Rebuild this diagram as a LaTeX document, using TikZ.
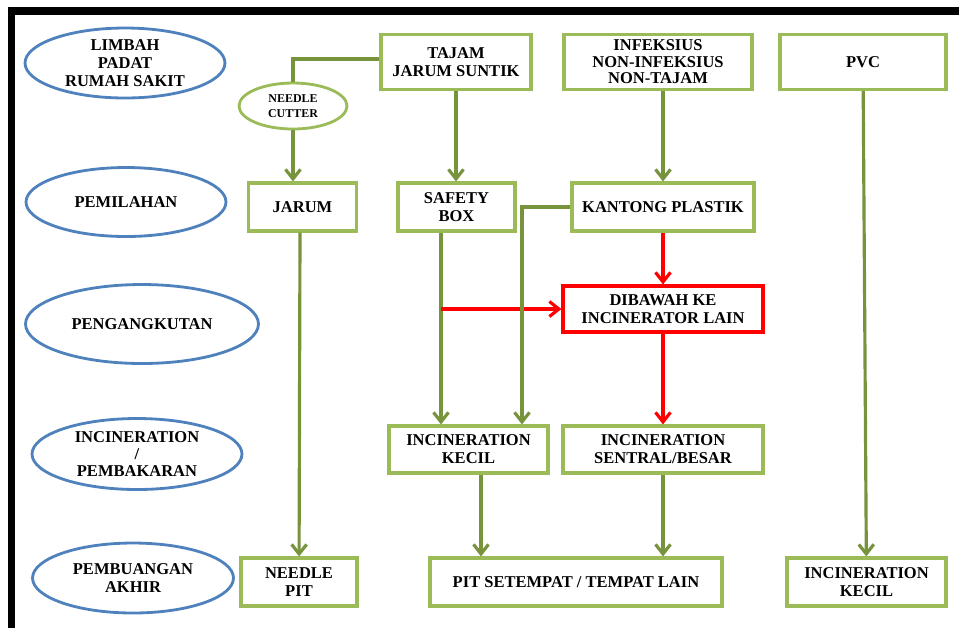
\documentclass[tikz,border=0pt]{standalone}
\usepackage{fontspec}
\setmainfont{Liberation Serif}
\usetikzlibrary{shapes.geometric,arrows.meta}
\definecolor{boxgreen}{RGB}{155,187,89}
\definecolor{arrgreen}{RGB}{119,147,60}
\definecolor{stageblue}{RGB}{79,129,189}
\tikzset{
  stage/.style={ellipse,draw=stageblue,line width=1.6pt,inner sep=0pt,align=center,
    font=\fontsize{9.4}{10.3}\selectfont\bfseries},
  wbox/.style={rectangle,draw=boxgreen,line width=1.8pt,inner sep=0pt,align=center,
    font=\fontsize{9.4}{10.3}\selectfont\bfseries},
  link/.style={draw=arrgreen,line width=1.8pt},
  arr/.style={link,-{Straight Barb[length=0.19cm,width=0.3cm]}},
  redarr/.style={draw=red,line width=1.8pt,-{Straight Barb[length=0.19cm,width=0.3cm]}}
}

\begin{document}
\begin{tikzpicture}[x=0.02cm,y=-0.02cm]
  \useasboundingbox (0,0) rectangle (959,627);
  % frame
  \draw[line width=0.16cm] (11.5,640) -- (11.5,11) -- (970,11);
  % stages
  \node[stage,minimum width=4.0cm,minimum height=1.4cm] (limbah) at (125,63) {LIMBAH\\PADAT\\RUMAH SAKIT};
  \node[stage,minimum width=4.0cm,minimum height=1.38cm] (pemilahan) at (126,202) {PEMILAHAN};
  \node[stage,minimum width=4.66cm,minimum height=1.58cm] (pengangkutan) at (142,324) {PENGANGKUTAN};
  \node[stage,minimum width=4.2cm,minimum height=1.42cm,font=\fontsize{9.4}{9.6}\selectfont\bfseries] (pembakaran) at (137,454) {INCINERATION\\/\\PEMBAKARAN};
  \node[stage,minimum width=4.02cm,minimum height=1.4cm] (pembuangan) at (133,578) {PEMBUANGAN\\AKHIR};
  % waste types
  \node[wbox,minimum width=3.0cm,minimum height=1.1cm] (tajam) at (456,62) {TAJAM\\JARUM SUNTIK};
  \node[wbox,minimum width=3.76cm,minimum height=1.1cm,font=\fontsize{9.4}{9.4}\selectfont\bfseries] (infeksius) at (658,62) {INFEKSIUS\\NON-INFEKSIUS\\NON-TAJAM};
  \node[wbox,minimum width=3.32cm,minimum height=1.1cm] (pvc) at (863,62) {PVC};
  \node[ellipse,draw=boxgreen,line width=1.6pt,inner sep=0pt,align=center,
    minimum width=2.16cm,minimum height=0.92cm,
    font=\fontsize{6.8}{8.2}\selectfont\bfseries] (cutter) at (293,106) {NEEDLE\\CUTTER};
  % sorting
  \node[wbox,minimum width=2.16cm,minimum height=0.96cm] (jarum) at (302.5,207) {JARUM};
  \node[wbox,minimum width=2.34cm,minimum height=0.96cm] (safety) at (456.5,207) {SAFETY\\BOX};
  \node[wbox,minimum width=3.64cm,minimum height=0.96cm] (kantong) at (663,207) {KANTONG PLASTIK};
  % transport
  \node[wbox,draw=red,minimum width=4.0cm,minimum height=0.92cm] (dibawah) at (663,309) {DIBAWAH KE\\INCINERATOR LAIN};
  % burning
  \node[wbox,minimum width=3.18cm,minimum height=0.94cm] (kecilA) at (468.5,449.5) {INCINERATION\\KECIL};
  \node[wbox,minimum width=4.0cm,minimum height=0.94cm] (sentral) at (663,449.5) {INCINERATION\\SENTRAL/BESAR};
  % final disposal
  \node[wbox,minimum width=2.32cm,minimum height=0.96cm] (needlepit) at (299,582) {NEEDLE\\PIT};
  \node[wbox,minimum width=5.84cm,minimum height=0.96cm] (pit) at (576,582) {PIT SETEMPAT / TEMPAT LAIN};
  \node[wbox,minimum width=3.18cm,minimum height=0.96cm] (kecilB) at (866.5,582) {INCINERATION\\KECIL};
  % connectors
  \draw[link] ([yshift=0.06cm]tajam.west) -| (cutter.north);
  \draw[arr] (cutter.south) -- (cutter.south |- jarum.north);
  \draw[arr] (tajam) -- (tajam.south |- safety.north);
  \draw[arr] (kantong.north |- infeksius.south) -- (kantong.north);
  \draw[arr] (pvc) -- (kecilB);
  \draw[arr] ([xshift=-0.05cm]jarum.south) -- (needlepit);
  \draw[arr] ([xshift=-0.31cm]safety.south) -- ([xshift=-0.31cm]safety.south |- kecilA.north);
  \draw[redarr] ([xshift=-0.31cm]safety.south |- dibawah.west) -- (dibawah.west);
  \draw[arr] (kantong.west) -| ([xshift=1.07cm]kecilA.north);
  \draw[redarr] (kantong) -- (dibawah);
  \draw[redarr] (dibawah) -- (sentral);
  \draw[arr] ([xshift=0.25cm]kecilA.south) -- ([xshift=0.25cm]kecilA.south |- pit.north);
  \draw[arr] (sentral) -- (sentral.south |- pit.north);
\end{tikzpicture}
\end{document}
